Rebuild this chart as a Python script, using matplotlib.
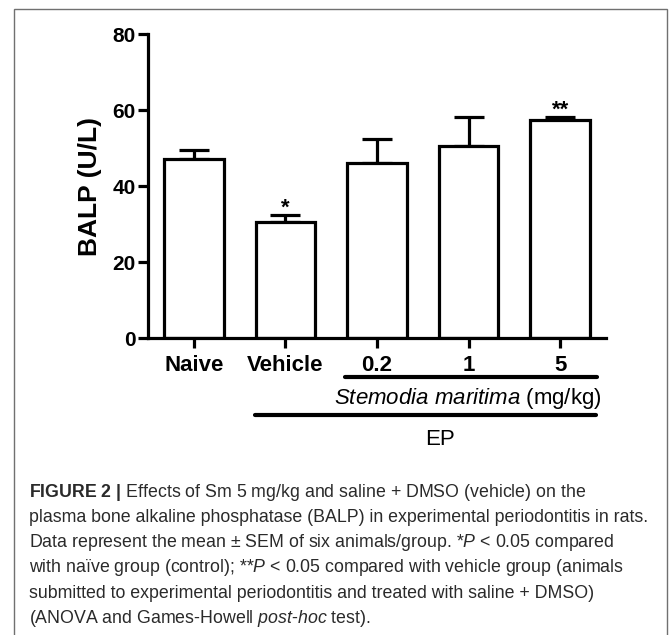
import matplotlib
matplotlib.use("Agg")
import matplotlib.pyplot as plt
from matplotlib.patches import Rectangle

groups = ["Naive", "Vehicle", "0.2", "1", "5"]
balp_mean = [47.0, 30.6, 46.1, 50.5, 57.4]
balp_sem = [2.6, 1.8, 6.2, 7.6, 0.8]
marks = ["", "*", "", "", "**"]
yticks = [0, 20, 40, 60, 80]

caption_lines = [
    "$\\mathbf{FIGURE\\ 2\\ |}$ Effects of Sm 5 mg/kg and saline + DMSO (vehicle) on the",
    "plasma bone alkaline phosphatase (BALP) in experimental periodontitis in rats.",
    "Data represent the mean ± SEM of six animals/group. *$\\mathit{P}$ < 0.05 compared",
    "with naïve group (control); **$\\mathit{P}$ < 0.05 compared with vehicle group (animals",
    "submitted to experimental periodontitis and treated with saline + DMSO)",
    "(ANOVA and Games-Howell $\\mathit{post}$-$\\mathit{hoc}$ test).",
]

plt.rcParams["font.family"] = ["Liberation Sans", "DejaVu Sans"]
plt.rcParams["mathtext.fontset"] = "custom"
plt.rcParams["mathtext.rm"] = "Liberation Sans"
plt.rcParams["mathtext.it"] = "Liberation Sans:italic"
plt.rcParams["mathtext.bf"] = "Liberation Sans:bold"

W, H = 672, 635
fig = plt.figure(figsize=(W / 100, H / 100), dpi=100)
ax = fig.add_axes([148 / W, 1 - 338 / H, (606 - 148) / W, 304 / H])

x = list(range(len(groups)))
lw = 2.3
ax.bar(x, balp_mean, width=0.65, color="white", edgecolor="black", linewidth=lw, zorder=2)
ax.errorbar(x, balp_mean, yerr=[[0] * len(x), balp_sem], fmt="none", ecolor="black",
            elinewidth=lw, capsize=10.5, capthick=lw, zorder=1)

# significance stars sit right on top of the error bars
for xi, m, s, mk in zip(x, balp_mean, balp_sem, marks):
    if mk:
        ax.text(xi, m + s + 0.3, mk, ha="center", va="baseline", fontsize=16, fontweight="bold")

ax.set_xlim(-0.5, 4.5)
ax.set_ylim(0, 80)
ax.set_yticks(yticks)
ax.set_xticks(x)
ax.set_xticklabels(groups)
for side in ["top", "right"]:
    ax.spines[side].set_visible(False)
for side in ["left", "bottom"]:
    ax.spines[side].set_linewidth(lw)
ax.tick_params(axis="both", width=lw, length=7)
ax.tick_params(axis="y", pad=2, labelsize=15)
ax.tick_params(axis="x", pad=5, labelsize=16)
for lab in ax.get_xticklabels() + ax.get_yticklabels():
    lab.set_fontweight("bold")

ax.set_ylabel("BALP (U/L)", fontsize=19, fontweight="bold")
ax.yaxis.set_label_coords(-0.1, 0.5)

# group brackets under the x axis
tr = ax.get_xaxis_transform()
ax.plot([1.65, 4.40], [-0.128, -0.128], transform=tr, clip_on=False, lw=3,
        color="black", solid_capstyle="round")
ax.plot([0.667, 4.39], [-0.253, -0.253], transform=tr, clip_on=False, lw=3,
        color="black", solid_capstyle="round")
ax.text(4.45, -0.2, "$\\mathit{Stemodia\\ maritima}$ (mg/kg)", transform=tr,
        ha="right", va="center", fontsize=16)
ax.text(2.69, -0.3355, "EP", transform=tr, ha="center", va="center", fontsize=16)

# caption
baselines = [497, 522, 547, 572, 598, 623]
for line, yb in zip(caption_lines, baselines):
    fig.text(29 / W, 1 - yb / H, line, fontsize=12.8, ha="left", va="baseline", color="#2a2a2a")

# frame around the figure panel
fig.add_artist(Rectangle((14 / W, -0.1), (667 - 14) / W, 1 - 9 / H + 0.1,
                         transform=fig.transFigure, fill=False, edgecolor="#707070", lw=1.0))

fig.savefig("out.png", dpi=100)
